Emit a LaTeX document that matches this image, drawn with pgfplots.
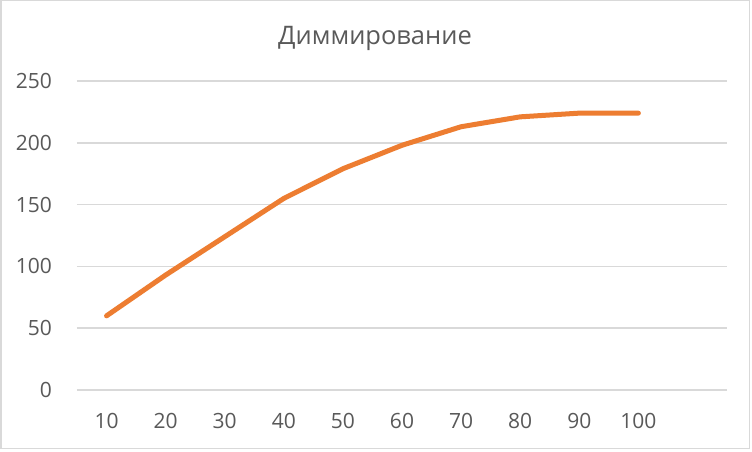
\documentclass[border=0pt]{standalone}
\usepackage{pgfplots}
\pgfplotsset{compat=1.18}
\usepackage{fontspec}
\setmainfont{Open Sans}
\definecolor{gridc}{HTML}{D9D9D9}
\definecolor{txtc}{HTML}{595959}
\definecolor{linec}{HTML}{ED7D31}
\begin{document}
\begin{tikzpicture}[x=1pt,y=1pt]
\useasboundingbox (0,0) rectangle (752,451);
\fill[white] (0,0) rectangle (752,451);
\draw[gridc, line width=1.5pt] (0.75,2.5) rectangle (749.5,450.25);
\node[anchor=base, text=txtc, font=\fontsize{25.5}{30}\selectfont, inner sep=0pt] at (375,406.7) {Диммирование};
\begin{axis}[
  at={(77pt,61pt)}, anchor=south west,
  scale only axis, width=650pt, height=309pt,
  xmin=0.5, xmax=11.5, ymin=0, ymax=250,
  axis line style={draw=none},
  xtick={1,...,10},
  xticklabels={10,20,30,40,50,60,70,80,90,100},
  ytick={0,50,...,250},
  ymajorgrids,
  grid style={gridc, line width=1.6pt},
  major tick length=0pt,
  tick style={draw=none},
  /pgf/number format/assume math mode=true,
  ticklabel style={text=txtc, font=\fontsize{21}{25}\selectfont, inner sep=0pt},
  xticklabel style={anchor=north, yshift=-23pt},
  yticklabel style={anchor=east, xshift=-25pt},
  clip=false,
]
\addplot[linec, line width=5pt, line cap=round, line join=round] coordinates {
(1,60) (2,93) (3,124) (4,155) (5,179) (6,198) (7,213) (8,221) (9,224) (10,224)
};
\end{axis}
\end{tikzpicture}
\end{document}
